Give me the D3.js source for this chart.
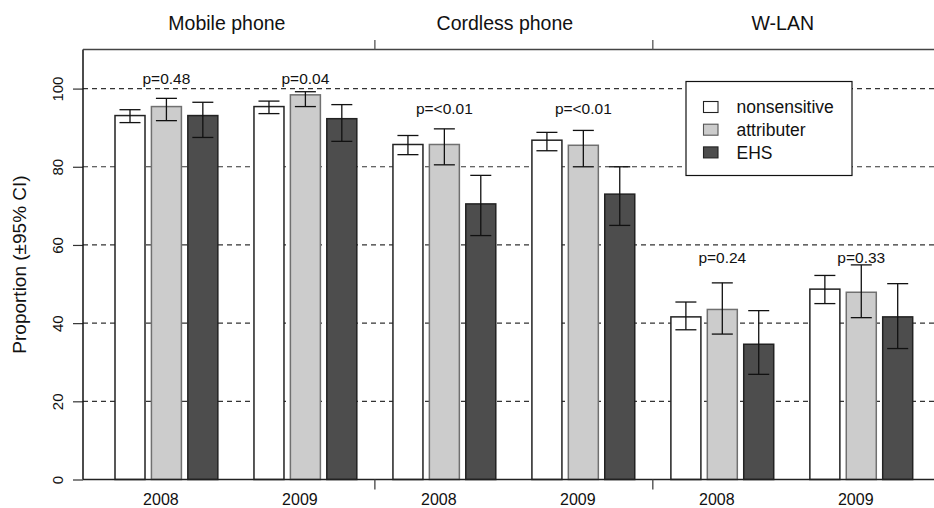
<!DOCTYPE html>
<html>
<head>
<meta charset="utf-8">
<script src="https://cdn.jsdelivr.net/npm/d3@7"></script>
<style>
  html, body { margin: 0; padding: 0; background: #fff; }
  svg { display: block; font-family: "Liberation Sans", Arial, Helvetica, sans-serif; }
</style>
</head>
<body>
<svg id="chart" width="934" height="508"></svg>
<script>
// ---------- data ----------
const devices = ["Mobile phone", "Cordless phone", "W-LAN"];
const years = ["2008", "2009"];
const seriesNames = ["nonsensitive", "attributer", "EHS"];
const yTicks = [0, 20, 40, 60, 80, 100];

// one row per device-year (Mobile 2008, Mobile 2009, Cordless 2008, ...), columns = series
const proportion = [
  [93.1, 95.4, 93.1],
  [95.4, 98.4, 92.3],
  [85.7, 85.7, 70.5],
  [86.8, 85.5, 73.0],
  [41.6, 43.5, 34.6],
  [48.7, 47.9, 41.6]
];
const ciLower = [
  [91.3, 91.8, 87.5],
  [93.6, 95.4, 86.5],
  [83.1, 80.5, 62.4],
  [84.1, 80.0, 65.0],
  [38.3, 37.2, 26.9],
  [45.0, 41.4, 33.5]
];
const ciUpper = [
  [94.6, 97.5, 96.5],
  [96.8, 99.2, 95.9],
  [88.0, 89.7, 77.8],
  [88.8, 89.3, 80.0],
  [45.4, 50.3, 43.2],
  [52.2, 54.9, 50.1]
];
const pLabels = ["p=0.48", "p=0.04", "p=<0.01", "p=<0.01", "p=0.24", "p=0.33"];
const pLevel = [101.3, 101.3, 93.5, 93.5, 55.4, 55.4];

// ---------- layout ----------
const fills = { nonsensitive: "#ffffff", attributer: "#cccccc", EHS: "#4d4d4d" };
const strokes = { nonsensitive: "#222222", attributer: "#707070", EHS: "#222222" };

const svg = d3.select("#chart");
const plotLeft = 83, plotRight = 934, plotTop = 49.5, plotBottom = 479.5;

const groupKeys = [];
devices.forEach(d => years.forEach(y => groupKeys.push(d + "|" + y)));

const x = d3.scaleBand().domain(groupKeys).range([115, 912.7]).paddingInner(0.26).paddingOuter(0);
const xs = d3.scaleBand().domain(seriesNames).range([0, x.bandwidth()]).paddingInner(0.176).paddingOuter(0);
const y = d3.scaleLinear().domain([0, 110]).range([plotBottom, plotTop]);

// panel boundaries (midpoints between device blocks)
const boundaries = [];
for (let i = 1; i < devices.length; i++) {
  const prevEnd = x(devices[i - 1] + "|" + years[years.length - 1]) + x.bandwidth();
  const nextStart = x(devices[i] + "|" + years[0]);
  boundaries.push((prevEnd + nextStart) / 2);
}

// gridlines
svg.append("g").selectAll("line").data(yTicks.filter(t => t > 0)).join("line")
  .attr("x1", plotLeft).attr("x2", plotRight)
  .attr("y1", d => y(d)).attr("y2", d => y(d))
  .attr("stroke", "#333").attr("stroke-width", 1.2).attr("stroke-dasharray", "5,4");

// bars
const rows = [];
groupKeys.forEach((g, gi) => {
  seriesNames.forEach((s, si) => {
    rows.push({ g, gi, s, v: proportion[gi][si], lo: ciLower[gi][si], hi: ciUpper[gi][si] });
  });
});

svg.append("g").selectAll("rect").data(rows).join("rect")
  .attr("x", d => x(d.g) + xs(d.s))
  .attr("y", d => y(d.v))
  .attr("width", xs.bandwidth())
  .attr("height", d => y(0) - y(d.v))
  .attr("fill", d => fills[d.s])
  .attr("stroke", d => strokes[d.s])
  .attr("stroke-width", 1.5);

// error bars
const capW = xs.bandwidth() * 0.7;
const eb = svg.append("g").attr("stroke", "#111").attr("stroke-width", 1.3);
rows.forEach(d => {
  const cx = x(d.g) + xs(d.s) + xs.bandwidth() / 2;
  eb.append("line").attr("x1", cx).attr("x2", cx).attr("y1", y(d.lo)).attr("y2", y(d.hi));
  eb.append("line").attr("x1", cx - capW / 2).attr("x2", cx + capW / 2).attr("y1", y(d.lo)).attr("y2", y(d.lo));
  eb.append("line").attr("x1", cx - capW / 2).attr("x2", cx + capW / 2).attr("y1", y(d.hi)).attr("y2", y(d.hi));
});

// p-value labels
svg.append("g").selectAll("text").data(groupKeys).join("text")
  .attr("x", d => x(d) + x.bandwidth() / 2)
  .attr("y", (d, i) => y(pLevel[i]))
  .attr("text-anchor", "middle")
  .attr("font-size", 15.5).attr("fill", "#111")
  .text((d, i) => pLabels[i]);

// y axis
const yAxis = d3.axisLeft(y).tickValues(yTicks).tickSize(10).tickFormat(d3.format("d"));
const gy = svg.append("g").attr("transform", `translate(${plotLeft},0)`).call(yAxis);
gy.select(".domain").remove();
gy.selectAll(".tick line").attr("stroke", "#333").attr("stroke-width", 1.2);
gy.selectAll(".tick text").remove();
gy.selectAll(".tick").append("text")
  .attr("transform", "translate(-20,0) rotate(-90)")
  .attr("text-anchor", "middle")
  .attr("font-size", 15).attr("fill", "#111")
  .text(d => d);
svg.append("line").attr("x1", plotLeft).attr("x2", plotLeft)
  .attr("y1", plotTop).attr("y2", plotBottom)
  .attr("stroke", "#111").attr("stroke-width", 1.5);

// y label
svg.append("text")
  .attr("transform", `translate(26,${(plotTop + plotBottom) / 2}) rotate(-90)`)
  .attr("text-anchor", "middle").attr("font-size", 19).attr("fill", "#111")
  .text("Proportion (\u00b195% CI)");

// bottom axis
svg.append("line").attr("x1", plotLeft).attr("x2", plotRight)
  .attr("y1", plotBottom).attr("y2", plotBottom)
  .attr("stroke", "#222").attr("stroke-width", 1.6);
svg.append("g").selectAll("line").data(boundaries).join("line")
  .attr("x1", d => d).attr("x2", d => d)
  .attr("y1", plotBottom).attr("y2", plotBottom + 10)
  .attr("stroke", "#444").attr("stroke-width", 1.3);
svg.append("g").selectAll("text").data(groupKeys).join("text")
  .attr("x", d => x(d) + x.bandwidth() / 2 - 5.5)
  .attr("y", 505)
  .attr("text-anchor", "middle").attr("font-size", 16).attr("fill", "#111")
  .text(d => d.split("|")[1]);

// top axis with device headers
svg.append("line").attr("x1", plotLeft).attr("x2", plotRight)
  .attr("y1", plotTop).attr("y2", plotTop)
  .attr("stroke", "#444").attr("stroke-width", 1.6);
svg.append("g").selectAll("line").data(boundaries).join("line")
  .attr("x1", d => d).attr("x2", d => d)
  .attr("y1", plotTop - 9.5).attr("y2", plotTop)
  .attr("stroke", "#555").attr("stroke-width", 1.3);
svg.append("g").selectAll("text").data(devices).join("text")
  .attr("x", (d, i) => {
    const a = x(d + "|" + years[0]) + x.bandwidth() / 2;
    const b = x(d + "|" + years[years.length - 1]) + x.bandwidth() / 2;
    return (a + b) / 2 - 9;
  })
  .attr("y", 30)
  .attr("text-anchor", "middle").attr("font-size", 19.5).attr("fill", "#111")
  .text(d => d);

// legend
const lg = svg.append("g").attr("transform", "translate(686,81.5)");
lg.append("rect").attr("width", 166).attr("height", 94)
  .attr("fill", "#fff").attr("stroke", "#111").attr("stroke-width", 1.2);
const li = lg.selectAll("g.item").data(seriesNames).join("g")
  .attr("class", "item")
  .attr("transform", (d, i) => `translate(0,${25.5 + i * 22.7})`);
li.append("rect").attr("x", 17.5).attr("y", -5.5).attr("width", 14.5).attr("height", 11)
  .attr("fill", d => fills[d]).attr("stroke", d => d === "attributer" ? "#555" : "#222").attr("stroke-width", 1.1);
li.append("text").attr("x", 50.5).attr("y", 6.3)
  .attr("font-size", 17.5).attr("fill", "#111")
  .text(d => d);
</script>
</body>
</html>
